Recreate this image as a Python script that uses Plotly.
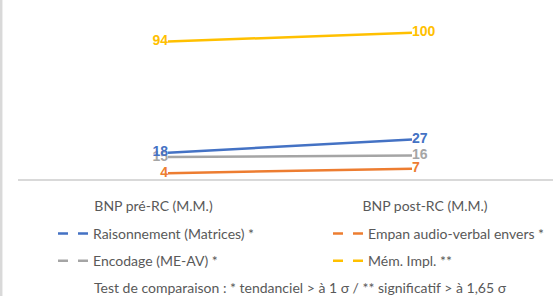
import plotly.graph_objects as go

categories = ["BNP pré-RC (M.M.)", "BNP post-RC (M.M.)"]
series_names = ["Raisonnement (Matrices) *", "Empan audio-verbal envers *",
                "Encodage (ME-AV) *", "Mém. Impl. **"]
raisonnement = [18, 27]
empan = [4, 7]
encodage = [15, 16]
mem_impl = [94, 100]
colors = ["#4472C4", "#ED7D31", "#A5A5A5", "#FFC000"]
footer = "Test de comparaison : * tendanciel > à 1 σ / ** significatif > à 1,65 σ"

values = [raisonnement, empan, encodage, mem_impl]
xidx = list(range(len(categories)))
FONT = "Lato, Liberation Sans, Arial, sans-serif"
LFONT = "Liberation Sans, Arial, sans-serif"

fig = go.Figure()
# draw order: yellow, grey, orange, blue on top
for i in [3, 2, 1, 0]:
    fig.add_trace(go.Scatter(
        x=xidx, y=values[i], mode="lines+text",
        line=dict(color=colors[i], width=2.5),
        text=[str(v) for v in values[i]],
        textposition=["middle left", "middle right"],
        textfont=dict(family=LFONT, size=14, color=colors[i], weight="bold"),
        showlegend=False, hoverinfo="skip", cliponaxis=False,
    ))

# legend entries (dashed sample as in the original legend)
legend_ids = ["legend", "legend2", "legend", "legend2"]
for i in range(4):
    fig.add_trace(go.Scatter(
        x=[None], y=[None], mode="lines", name=series_names[i],
        line=dict(color=colors[i], width=2.5, dash="10px,10px"),
        legend=legend_ids[i], legendgroup="g%d" % i, showlegend=True,
    ))

W, H = 553, 296
ml, mr, mt, mb = 18, 0, 0, 117
pw = W - ml - mr
# data x=0 at pixel 168, x=1 at pixel 412
px0, px1 = 168, 412
unit = px1 - px0
xr = [(ml - px0) / unit, (W - mr - px0) / unit]
# y: 0 at bottom pixel 179, 100 at pixel ~32.7
yr = [0, 179 / 1.463]

legend_common = dict(
    bgcolor="rgba(0,0,0,0)", font=dict(family=FONT, size=14, color="#595959"),
    xanchor="left", yanchor="top", tracegroupgap=6,
    itemclick=False, itemdoubleclick=False,
)
fig.update_layout(
    width=W, height=H,
    margin=dict(l=ml, r=mr, t=mt, b=mb, pad=0),
    paper_bgcolor="white", plot_bgcolor="white",
    xaxis=dict(range=xr, tickmode="array",
               tickvals=[(153.5 - px0) / unit, (425 - px0) / unit],
               ticktext=categories, showgrid=False, zeroline=False,
               showline=True, linecolor="#D9D9D9", linewidth=1.5,
               ticks="", ticklabelstandoff=13,
               tickfont=dict(family=FONT, size=14, color="#595959")),
    yaxis=dict(range=yr, visible=False),
    legend=dict(x=(53 - ml) / pw, y=(179 - 218) / 179, **legend_common),
    legend2=dict(x=(328 - ml) / pw, y=(179 - 218) / 179, **legend_common),
    showlegend=True,
)
fig.add_annotation(
    text=footer, xref="paper", yref="paper",
    x=(92 - ml) / pw, y=(179 - 287) / 179, xanchor="left", yanchor="middle",
    showarrow=False, font=dict(family=FONT, size=14, color="#595959"),
)
fig.add_shape(type="line", xref="paper", yref="paper",
              x0=(1.2 - ml) / pw, x1=(1.2 - ml) / pw, y0=(179 - 0) / 179, y1=(179 - H) / 179,
              line=dict(color="#D9D9D9", width=2.5))

fig.write_html("out.html", config={"displayModeBar": False},
               post_script="document.body.style.margin='0';")
